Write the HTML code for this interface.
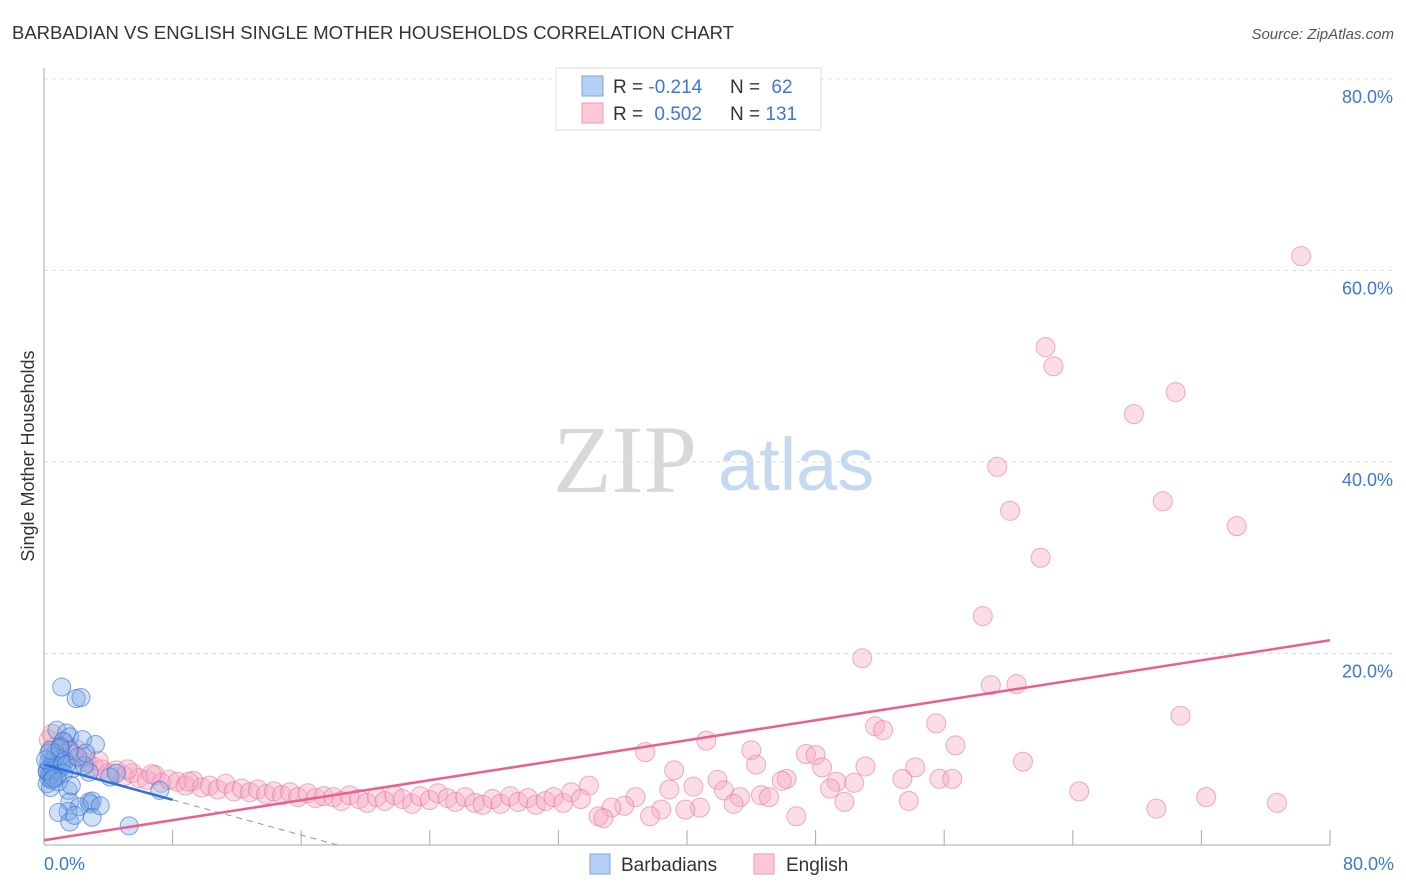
<!DOCTYPE html>
<html><head><meta charset="utf-8"><style>
body{margin:0;background:#fff;font-family:"Liberation Sans",sans-serif;}
svg{display:block}
</style></head><body>
<svg width="1406" height="892">
<text x="12" y="39" font-size="18.5" fill="#333">BARBADIAN VS ENGLISH SINGLE MOTHER HOUSEHOLDS CORRELATION CHART</text>
<text x="1394" y="39" font-size="15" fill="#555" font-style="italic" text-anchor="end">Source: ZipAtlas.com</text>
<g>
<text x="553" y="492" font-size="96" fill="#d8d8d8" font-family="Liberation Serif,serif">ZIP</text>
<text x="718" y="490" font-size="74" fill="#c4d8f0">atlas</text>
</g>
<g id="grid"></g>
<g id="axes"></g>
<g id="pts"></g>
<g id="lines"></g>
<text transform="translate(34,456) rotate(-90)" font-size="18" fill="#333" text-anchor="middle">Single Mother Households</text>
<text x="44" y="870" font-size="18" fill="#3b78d8">0.0%</text>
<text x="1394" y="870" font-size="18" fill="#3b78d8" text-anchor="end">80.0%</text>
<g>
<rect x="556" y="68" width="265" height="62" fill="#fff" stroke="#ddd"/>
<rect x="582" y="76" width="21" height="20" fill="#b5d0f4" stroke="#7aa6e0"/>
<rect x="582" y="103" width="21" height="20" fill="#fcc8d6" stroke="#ee9ab4"/>
<text x="613" y="93" font-size="19" fill="#333">R = <tspan fill="#3b78d8">-0.214</tspan></text>
<text x="730" y="93" font-size="19" fill="#333">N = <tspan fill="#3b78d8" dx="6">62</tspan></text>
<text x="613" y="120" font-size="19" fill="#333">R = <tspan fill="#3b78d8" dx="6">0.502</tspan></text>
<text x="730" y="120" font-size="19" fill="#333">N = <tspan fill="#3b78d8">131</tspan></text>
</g>
<g>
<rect x="590" y="854" width="20" height="20" fill="#b5d0f4" stroke="#7aa6e0"/>
<text x="621" y="871" font-size="19" fill="#333">Barbadians</text>
<rect x="754" y="854" width="20" height="20" fill="#fcc8d6" stroke="#ee9ab4"/>
<text x="786" y="871" font-size="19" fill="#333">English</text>
</g>
</svg>
<script>
const yTicks=[20,40,60,80];
const xTickMarks=[8,16,24,32,40,48,56,64,72,80];
const blueX=[1.1,2.0,2.3,0.8,1.4,1.6,1.2,2.4,3.2,1.6,1.0,0.7,0.4,0.5,0.3,0.2,0.3,0.5,0.6,0.8,0.2,0.4,1.0,1.3,2.8,4.1,4.5,7.2,1.5,1.6,2.8,2.9,2.2,1.5,3.0,0.9,1.6,3.0,1.9,5.3,3.5,0.3,0.6,0.9,0.4,0.2,1.8,2.5,1.1,0.7,0.3,1.4,2.1,1.2,0.5,0.9,1.7,0.1,0.4,1.0,2.6,0.6];
const blueY=[16.5,15.3,15.4,12.0,11.7,11.3,10.8,11.0,10.5,9.9,10.3,9.6,8.2,7.4,8.0,7.6,7.0,8.5,7.7,7.2,6.4,6.0,9.0,8.8,7.6,7.1,7.5,5.7,5.7,4.5,4.5,4.3,4.0,3.5,4.6,3.4,2.4,2.9,3.1,2.0,4.1,8.6,8.0,7.9,7.3,7.8,8.0,8.3,8.6,9.2,9.6,8.4,9.2,7.5,6.8,6.6,6.2,8.9,9.9,10.1,9.6,7.0];
const pinkX=[78.2,62.3,62.8,70.4,67.8,59.3,69.6,60.1,74.2,62.0,58.4,50.9,58.9,60.5,70.7,51.7,52.2,55.5,56.7,41.2,37.4,44.0,47.4,48.0,60.9,54.2,44.3,48.4,51.1,39.2,41.9,46.2,45.9,53.4,55.7,56.5,49.3,50.4,48.9,42.3,38.9,40.4,33.9,43.3,44.6,45.1,36.8,64.4,72.3,76.7,69.2,53.8,49.8,42.9,40.8,39.9,38.4,37.7,46.8,36.1,35.3,34.5,34.8,
0.3,0.6,1.0,1.4,1.8,2.2,2.7,3.1,3.6,4.0,4.5,5.0,5.5,5.9,6.4,6.9,7.3,7.8,8.3,8.8,9.3,9.8,10.3,10.8,11.3,11.8,12.3,12.8,13.3,13.8,14.3,14.8,15.3,15.8,16.4,16.9,17.4,18.0,18.5,19.0,19.6,20.1,20.7,21.2,21.8,22.3,22.9,23.4,24.0,24.5,25.1,25.6,26.2,26.8,27.3,27.9,28.4,29.0,29.5,30.1,30.6,31.2,31.7,32.3,32.8,33.4,0.5,1.2,2.0,2.6,3.4,5.2,6.7,9.0];
const pinkY=[61.5,52.0,50.0,47.3,45.0,39.5,35.9,34.9,33.3,30.0,23.9,19.5,16.7,16.8,13.5,12.4,12.0,12.7,10.4,10.9,9.7,9.9,9.5,9.4,8.7,8.1,8.4,8.1,8.2,7.8,6.8,6.9,6.7,6.9,6.9,6.9,6.6,6.5,5.9,5.7,5.8,6.1,6.2,5.0,5.2,5.0,5.0,5.6,5.0,4.4,3.8,4.6,4.5,4.3,3.9,3.7,3.7,3.0,3.0,4.1,3.9,3.0,2.8,
11.0,10.2,9.6,10.4,9.4,9.0,8.6,8.2,7.9,7.5,7.8,7.2,7.5,7.0,6.8,7.3,6.5,6.8,6.6,6.2,6.7,6.0,6.2,5.8,6.4,5.6,5.9,5.5,5.8,5.3,5.6,5.2,5.5,5.0,5.4,4.9,5.1,5.0,4.6,5.2,4.8,4.4,5.0,4.6,5.2,4.8,4.3,5.1,4.7,5.4,4.9,4.5,5.0,4.4,4.2,4.8,4.3,5.1,4.5,4.9,4.2,4.6,5.0,4.4,5.5,4.8,11.6,10.8,10.0,9.2,8.8,7.9,7.4,6.6];
const blueLine=[8.4,-0.46];
const pinkLine=[0.5,0.261];
const NS='http://www.w3.org/2000/svg';
const X=v=>44+v*16.075, Y=v=>845-v*9.575;
function mk(t,a,p){const e=document.createElementNS(NS,t);for(const k in a)e.setAttribute(k,a[k]);document.getElementById(p).appendChild(e);return e;}
yTicks.forEach(t=>{
 const g=mk('line',{x1:44,x2:1394,y1:Y(t),y2:Y(t),stroke:'#ddd','stroke-dasharray':'4,4'},'grid');
 
 
 const l=mk('text',{x:1393,y:Y(t)+24,'font-size':18,fill:'#3b78d8','text-anchor':'end'},'grid');
 l.textContent=t.toFixed(1)+'%';
 
 
});
const ya=mk('line',{x1:44,x2:44,y1:68,y2:845,stroke:'#aaa'},'axes');


const xa=mk('line',{x1:44,x2:1330,y1:845,y2:845,stroke:'#aaa'},'axes');


xTickMarks.forEach(t=>{
 const e=mk('line',{x1:X(t),x2:X(t),y1:830,y2:845,stroke:'#aaa'},'axes');
 
 
});
pinkX.forEach((x,i)=>{
 const c=mk('circle',{cx:X(x),cy:Y(pinkY[i]),r:9.5,fill:'rgba(246,170,195,0.4)',stroke:'rgba(232,120,160,0.6)','stroke-width':1},'pts');
 
 
});
blueX.forEach((x,i)=>{
 const c=mk('circle',{cx:X(x),cy:Y(blueY[i]),r:9,fill:'rgba(120,165,230,0.35)',stroke:'rgba(50,110,210,0.6)','stroke-width':1},'pts');
 
 
});
const bs=mk('line',{x1:X(0),y1:Y(blueLine[0]),x2:X(8),y2:Y(blueLine[0]+blueLine[1]*8),stroke:'#2f6fd6','stroke-width':2.5},'lines');


const xz=-blueLine[0]/blueLine[1];
const bd=mk('line',{x1:X(8),y1:Y(blueLine[0]+blueLine[1]*8),x2:X(xz),y2:Y(0),stroke:'#6f9be0','stroke-width':1,'stroke-dasharray':'6,5'},'lines');


const pl=mk('line',{x1:X(0),y1:Y(pinkLine[0]),x2:X(80),y2:Y(pinkLine[0]+pinkLine[1]*80),stroke:'#e8608e','stroke-width':2.5},'lines');


</script>
</body></html>
